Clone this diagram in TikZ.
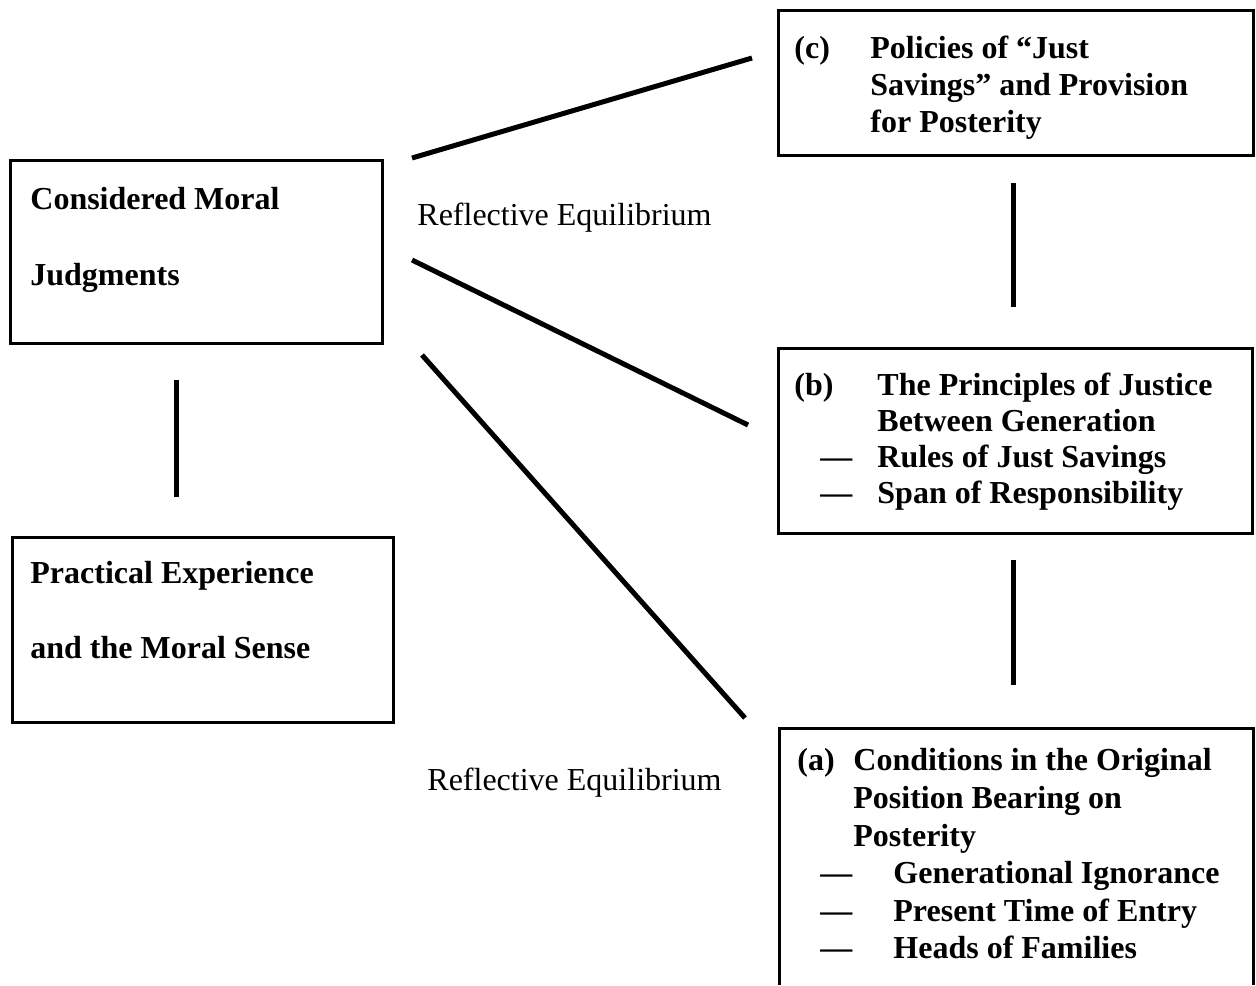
\documentclass[tikz,border=0pt]{standalone}
\usepackage{fontspec}
\setmainfont{Liberation Serif}
\usetikzlibrary{fit}
\begin{document}
\begin{tikzpicture}[x=0.5pt,y=-0.5pt,
  box/.style={draw, line width=1.5pt, inner sep=0pt},
  link/.style={line width=2.5pt},
  lbl/.style={anchor=base west, inner sep=0pt, font=\fontsize{16}{19}\selectfont\bfseries},
  re/.style={anchor=base west, inner sep=0pt, font=\fontsize{16}{19}\selectfont}]
\useasboundingbox (0,0) rectangle (1256,985);
% boxes
\node[box, fit={(10,160) (382,343)}] (cmj) {};
\node[box, fit={(12,537) (393,722)}] (pe) {};
\node[box, fit={(778,10) (1253,155)}] (bc) {};
\node[box, fit={(778,348) (1252,533)}] (bb) {};
\coordinate (ba1) at (779,985);
\coordinate (ba2) at (779,728);
\coordinate (ba3) at (1253.5,728);
\coordinate (ba4) at (1253.5,985);
\draw[line width=1.5pt] (ba1) -- (ba2) -- (ba3) -- (ba4);
% texts
\node[lbl] (cmj1) at (30,209) {Considered Moral};
\node[lbl] (cmj2) at (30,285) {Judgments};
\node[lbl] (pe1) at (30,583) {Practical Experience};
\node[lbl] (pe2) at (30,658) {and the Moral Sense};
\node[lbl] (c0) at (794,58) {(c)};
\node[lbl] (c1) at (870,58) {Policies of “Just};
\node[lbl] (c2) at (870,95) {Savings” and Provision};
\node[lbl] (c3) at (870,132) {for Posterity};
\node[lbl] (b0) at (794,395) {(b)};
\node[lbl] (b1) at (877,395) {The Principles of Justice};
\node[lbl] (b2) at (877,431) {Between Generation};
\node[lbl] (b3d) at (820,467) {—};
\node[lbl] (b3) at (877,467) {Rules of Just Savings};
\node[lbl] (b4d) at (820,503) {—};
\node[lbl] (b4) at (877,503) {Span of Responsibility};
\node[lbl] (a0) at (797,770) {(a)};
\node[lbl] (a1) at (853,770) {Conditions in the Original};
\node[lbl] (a2) at (853,808) {Position Bearing on};
\node[lbl] (a3) at (853,846) {Posterity};
\node[lbl] (a4d) at (820,883) {—};
\node[lbl] (a4) at (893,883) {Generational Ignorance};
\node[lbl] (a5d) at (820,921) {—};
\node[lbl] (a5) at (893,921) {Present Time of Entry};
\node[lbl] (a6d) at (820,958) {—};
\node[lbl] (a6) at (893,958) {Heads of Families};
\node[re] (re1) at (417,225) {Reflective Equilibrium};
\node[re] (re2) at (427,790) {Reflective Equilibrium};
% connectors
\coordinate (l1a) at (412,158); \coordinate (l1b) at (752,58);
\coordinate (l2a) at (412,260); \coordinate (l2b) at (748,425);
\coordinate (l3a) at (422,355); \coordinate (l3b) at (745,718);
\coordinate (v1a) at (176,380); \coordinate (v1b) at (176,497);
\coordinate (v2a) at (1013,183); \coordinate (v2b) at (1013,307);
\coordinate (v3a) at (1013,560); \coordinate (v3b) at (1013,685);
\draw[link] (l1a) -- (l1b);
\draw[link] (l2a) -- (l2b);
\draw[link] (l3a) -- (l3b);
\draw[link] (v1a) -- (v1b);
\draw[link] (v2a) -- (v2b);
\draw[link] (v3a) -- (v3b);
\end{tikzpicture}
\end{document}
